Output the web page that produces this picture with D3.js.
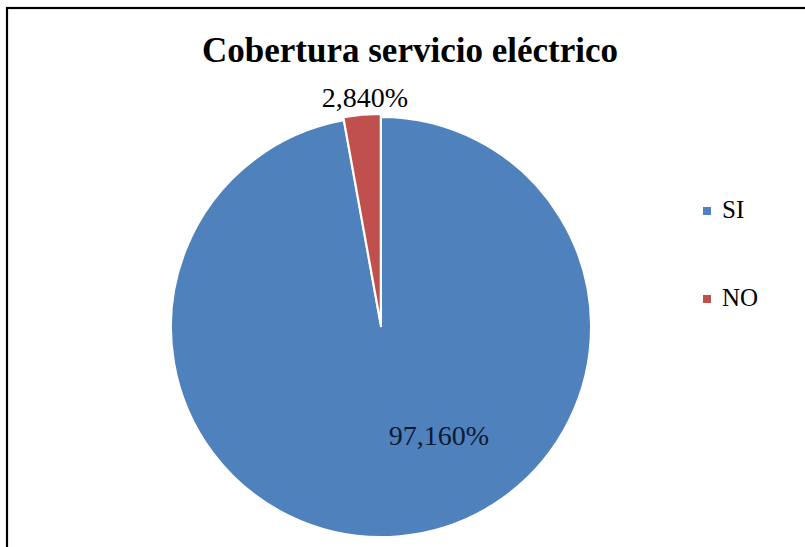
<!DOCTYPE html>
<html><head><meta charset="utf-8">
<script src="https://cdn.jsdelivr.net/npm/d3@7"></script>
<style>html,body{margin:0;padding:0;background:#fff;}svg{display:block;}</style>
</head><body>
<svg id="c" width="805" height="547"></svg>
<script>
const title = "Cobertura servicio eléctrico";
const categories = ["SI", "NO"];
const values = [97.16, 2.84];
const labels = ["97,160%", "2,840%"];
const colors = ["#4F81BD", "#C0504D"];

const FONT = "'Liberation Serif', 'Times New Roman', serif";
const svg = d3.select("#c");
svg.append("rect").attr("x", 7).attr("y", 8).attr("width", 820).attr("height", 560)
  .attr("fill", "#fff").attr("stroke", "#000").attr("stroke-width", 2.2);

svg.append("text").attr("x", 410).attr("y", 62).attr("text-anchor", "middle")
  .attr("font-family", FONT).attr("font-weight", "bold")
  .attr("font-size", 35).attr("fill", "#000").text(title);

const cx = 381, cy = 327, r = 210;
const pie = d3.pie().sort(null).value(d => d.v);
const arcs = pie(categories.map((c, i) => ({c, v: values[i], l: labels[i], col: colors[i]})));
const arc = d3.arc().innerRadius(0).outerRadius(r);
const g = svg.append("g").attr("transform", `translate(${cx},${cy})`);
g.selectAll("path").data(arcs).join("path")
  .attr("d", arc)
  .attr("transform", d => {
    if (d.data.c !== "NO") return null;
    const a = (d.startAngle + d.endAngle) / 2, off = 3;
    return `translate(${off * Math.sin(a)},${-off * Math.cos(a)})`;
  })
  .attr("fill", d => d.data.col).attr("stroke", "#fff").attr("stroke-width", 2);

// labels
const labelPos = {SI: [439, 445], NO: [365, 107]};
g.selectAll("text.lab").data(arcs).join("text")
  .attr("x", d => labelPos[d.data.c][0] - cx).attr("y", d => labelPos[d.data.c][1] - cy)
  .attr("text-anchor", "middle")
  .attr("font-family", FONT).attr("font-size", 28)
  .attr("fill", d => d.data.c === "SI" ? "#0d1a33" : "#000")
  .text(d => d.data.l);

// legend
const ly = d3.scalePoint().domain(categories).range([211, 299]);
const leg = svg.append("g");
categories.forEach((c, i) => {
  leg.append("rect").attr("x", 703).attr("y", ly(c) - 4).attr("width", 8).attr("height", 8).attr("fill", colors[i]);
  leg.append("text").attr("x", 722).attr("y", ly(c) + 7)
    .attr("font-family", FONT).attr("font-size", 25)
    .attr("fill", "#000").text(c);
});
</script>
</body></html>
